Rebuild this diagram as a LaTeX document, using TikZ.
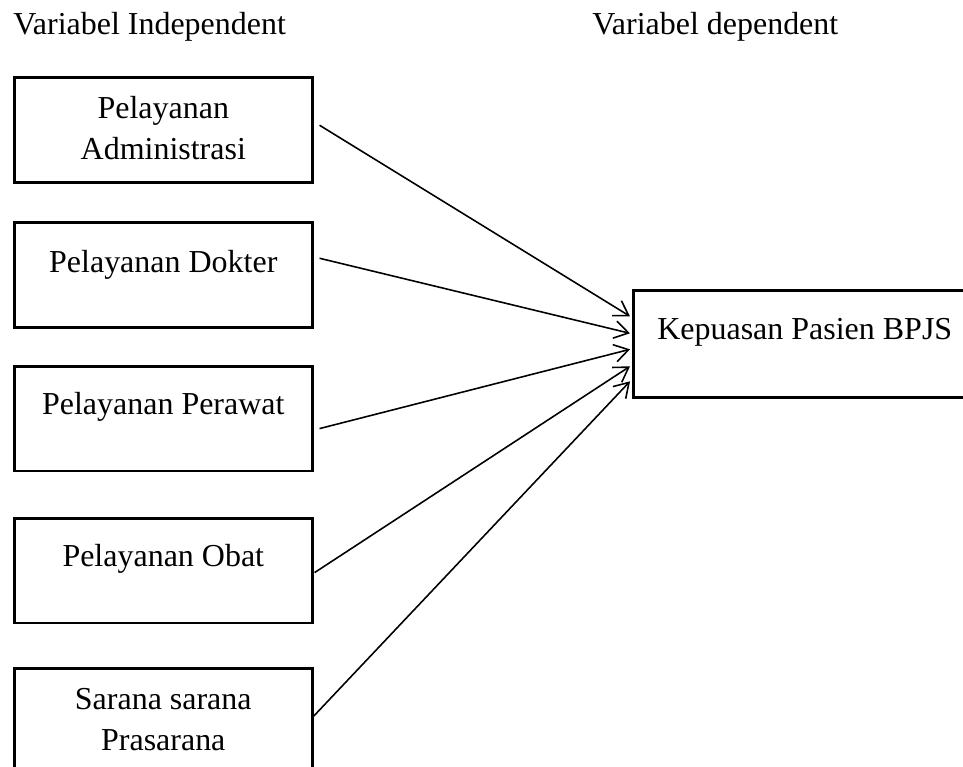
\documentclass[tikz,border=0pt]{standalone}
\usepackage{fontspec}
\setmainfont{Liberation Serif}
\usetikzlibrary{positioning,calc}
\usetikzlibrary{arrows.meta}
\tikzset{
  varbox/.style={draw=black,line width=1.5pt,anchor=north west,minimum width=5.96cm,
    inner xsep=0pt,inner ysep=0pt,text height=27.5pt,text depth=32pt,
    font=\fontsize{18.2}{23.5}\selectfont},
  twoline/.style={text height=23.3pt,text depth=36.4pt},
  head/.style={anchor=base west,inner sep=0pt,font=\fontsize{18.2}{23.5}\selectfont},
  link/.style={-{Straight Barb[length=8pt,width=10pt]},line width=0.9pt},
}

\begin{document}
\begin{tikzpicture}[x=0.02cm,y=-0.02cm]
\useasboundingbox (0,0) rectangle (963,767);
\clip (0,0) rectangle (963,767);
\node[head] (indep) at (13,35) {Variabel Independent};
\node[head] (dep) at (592,35) {Variabel dependent};
% left column
\node[varbox,twoline] (adm) at (13,76) {\begin{tabular}[t]{@{}c@{}}Pelayanan\\Administrasi\end{tabular}};
\node[varbox,text height=28.4pt,text depth=31.3pt] (dok) at (13,221) {Pelayanan Dokter};
\node[varbox] (per) at (13,365) {Pelayanan Perawat};
\node[varbox] (obt) at (13,517) {Pelayanan Obat};
\node[varbox,twoline] (sar) at (13,667) {\begin{tabular}[t]{@{}c@{}}Sarana sarana\\Prasarana\end{tabular}};
% right
\node[varbox,minimum width=6.86cm,text height=27.9pt,text depth=33pt] (kep) at (632,289) {Kepuasan Pasien BPJS};
\foreach \src/\sx/\sy/\ey in {adm/6/-4.5/-27.5,dok/6/-16.5/-10.5,per/6/10/5.5,obt/1/2/22.5,sar/0/-4.5/37.5}
  \draw[link] ($(\src.east)+(\sx,\sy)$) -- ($(kep.west)+(-2,\ey)$);
\end{tikzpicture}
\end{document}
